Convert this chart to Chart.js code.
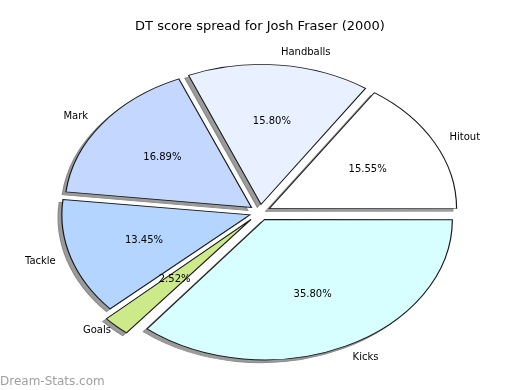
<!DOCTYPE html>
<html>
<head>
<meta charset="utf-8">
<title>DT score spread for Josh Fraser (2000)</title>
<script src="https://cdn.jsdelivr.net/npm/chart.js@4.4.1/dist/chart.umd.min.js"></script>
<style>
  html, body { margin: 0; padding: 0; background: #fff; }
  #wrap { position: relative; width: 520px; height: 390px; }
  #watermark { position: absolute; left: 0; top: 374px; font: 12px 'DejaVu Sans', sans-serif; color: #a0a0a0; }
</style>
</head>
<body>
<div id="wrap">
  <canvas id="pie" width="520" height="390"></canvas>
  <div id="watermark">Dream-Stats.com</div>
</div>
<script>
// slices in counter-clockwise order starting at 3 o'clock (as in the original)
const categories = ['Hitout', 'Handballs', 'Mark', 'Tackle', 'Goals', 'Kicks'];
const values = [15.55, 15.80, 16.89, 13.45, 2.52, 35.80];
const sliceColors = ['#ffffff', '#e9f0ff', '#c3d7ff', '#b3d5ff', '#cdea8a', '#d8ffff'];
const explode = [0.057, 0.057, 0.057, 0.057, 0.07, 0.057];

// pie geometry: the original is an ellipse (stretched circle)
const RADIUS = 138.7;
const STRETCH = 1.337;
const SHADOW = 0.02;

// Chart.js goes clockwise, so feed the slices reversed
const order = categories.map((_, i) => i).reverse();
const total = values.reduce((a, b) => a + b, 0);

function stretch(ctx, arc) {
    ctx.translate(arc.x, arc.y);
    ctx.scale(STRETCH, 1);
    ctx.translate(-arc.x, -arc.y);
}

const ellipsePlugin = {
    id: 'ellipse',
    beforeDatasetsDraw(chart) {
        const ctx = chart.ctx;
        const arcs = chart.getDatasetMeta(0).data;
        ctx.save();
        stretch(ctx, arcs[0]);
        // drop shadow under every wedge
        arcs.forEach(arc => {
            const opts = arc.options;
            arc.options = Object.assign({}, opts, { backgroundColor: '#9b9b9b', borderColor: '#8a8a8a' });
            ctx.save();
            ctx.translate(-SHADOW * RADIUS, SHADOW * RADIUS);
            arc.draw(ctx);
            ctx.restore();
            arc.options = opts;
        });
    },
    afterDatasetsDraw(chart) {
        const ctx = chart.ctx;
        ctx.restore();
        const arcs = chart.getDatasetMeta(0).data;
        ctx.save();
        ctx.fillStyle = '#000';
        ctx.font = '10px "DejaVu Sans"';
        ctx.textBaseline = 'middle';
        arcs.forEach((arc, j) => {
            const i = order[j];
            const mid = (arc.startAngle + arc.endAngle) / 2;
            const c = Math.cos(mid), s = Math.sin(mid);
            const shift = arc.options.offset / 4;
            const ex = arc.x + c * shift * STRETCH;
            const ey = arc.y + s * shift;
            // category label outside
            ctx.textAlign = c >= 0 ? 'left' : 'right';
            ctx.fillText(categories[i], ex + 1.1 * RADIUS * STRETCH * c, ey + 1.1 * RADIUS * s);
            // percentage inside
            ctx.textAlign = 'center';
            ctx.fillText((values[i] / total * 100).toFixed(2) + '%', ex + 0.6 * RADIUS * STRETCH * c, ey + 0.6 * RADIUS * s);
        });
        ctx.restore();
    }
};

new Chart(document.getElementById('pie'), {
    type: 'pie',
    data: {
        labels: order.map(i => categories[i]),
        datasets: [{
            data: order.map(i => values[i]),
            backgroundColor: order.map(i => sliceColors[i]),
            borderColor: '#1a1a1a',
            borderWidth: 0.9,
            borderJoinStyle: 'miter',
            offset: order.map(i => explode[i] * RADIUS * 4),
            clip: false
        }]
    },
    options: {
        responsive: false,
        devicePixelRatio: 1,
        animation: false,
        radius: RADIUS,
        rotation: 90,
        layout: { padding: { top: 0, bottom: 0, left: 0, right: 0 } },
        plugins: {
            legend: { display: false },
            tooltip: { enabled: false },
            title: {
                display: true,
                text: 'DT score spread for Josh Fraser (2000)',
                color: '#000',
                font: { family: 'DejaVu Sans', size: 13, weight: 'normal' },
                padding: { top: 19, bottom: 0 }
            }
        }
    },
    plugins: [ellipsePlugin]
});
</script>
</body>
</html>
